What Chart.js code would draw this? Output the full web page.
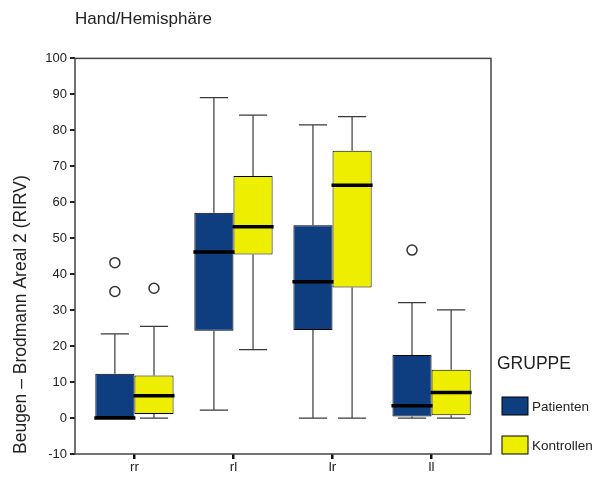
<!DOCTYPE html>
<html>
<head>
<meta charset="utf-8">
<script src="https://cdn.jsdelivr.net/npm/chart.js@4.4.1/dist/chart.umd.min.js"></script>
<style>
  body { margin: 0; background: #fff; }
  #wrap { width: 606px; height: 477px; }
</style>
</head>
<body>
<div id="wrap"><canvas id="boxchart"></canvas></div>
<script>
var categories = ['rr', 'rl', 'lr', 'll'];
var groups = ['Patienten', 'Kontrollen'];

// Patienten
var patMin = [0, 2.2, 0, 0];
var patQ1 = [0, 24.3, 24.5, 0.4];
var patMed = [0, 46.2, 37.9, 3.4];
var patQ3 = [12.3, 57.1, 53.6, 17.5];
var patMax = [23.4, 89.1, 81.5, 32.1];
var patOut = [[35.2, 43.2], [], [], [46.7]];

// Kontrollen
var konMin = [0, 19.0, 0, 0];
var konQ1 = [1.1, 45.5, 36.3, 0.8];
var konMed = [6.2, 53.2, 64.7, 7.1];
var konQ3 = [11.8, 67.3, 74.3, 13.4];
var konMax = [25.5, 84.2, 83.8, 30.1];
var konOut = [[36.1], [], [], []];

var yTicks = [-10, 0, 10, 20, 30, 40, 50, 60, 70, 80, 90, 100];

var FONT = '"Liberation Sans", Arial, sans-serif';

function boxData(q1, q3) {
	var out = [];
	for (var i in categories) {
		out.push({ x: Number(i), y: [q1[i], q3[i]] });
	}
	return out;
}

var stats = [
	{ min: patMin, med: patMed, max: patMax, out: patOut },
	{ min: konMin, med: konMed, max: konMax, out: konOut }
];

// whiskers, medians and outliers on top of the floating bars
var boxExtras = {
	id: 'boxExtras',
	afterDatasetsDraw: function(chart) {
		var ctx = chart.ctx;
		var y = chart.scales.y;
		ctx.save();
		chart.data.datasets.forEach(function(ds, d) {
			var meta = chart.getDatasetMeta(d);
			var s = stats[d];
			meta.data.forEach(function(bar, i) {
				var cx = bar.x;
				var w = bar.width;
				var top = ds.data[i].y[1];
				var bottom = ds.data[i].y[0];
				var cap = w * 0.36;

				ctx.strokeStyle = '#3a3a3a';
				ctx.lineWidth = 1.2;
				ctx.beginPath();
				ctx.moveTo(cx, y.getPixelForValue(top));
				ctx.lineTo(cx, y.getPixelForValue(s.max[i]));
				ctx.moveTo(cx - cap, y.getPixelForValue(s.max[i]));
				ctx.lineTo(cx + cap, y.getPixelForValue(s.max[i]));
				ctx.moveTo(cx, y.getPixelForValue(bottom));
				ctx.lineTo(cx, y.getPixelForValue(s.min[i]));
				ctx.moveTo(cx - cap, y.getPixelForValue(s.min[i]));
				ctx.lineTo(cx + cap, y.getPixelForValue(s.min[i]));
				ctx.stroke();

				ctx.strokeStyle = '#000';
				ctx.lineWidth = 3.5;
				ctx.beginPath();
				ctx.moveTo(cx - w / 2 - 1, y.getPixelForValue(s.med[i]));
				ctx.lineTo(cx + w / 2 + 1, y.getPixelForValue(s.med[i]));
				ctx.stroke();

				ctx.strokeStyle = '#333';
				ctx.lineWidth = 1.5;
				s.out[i].forEach(function(v) {
					ctx.beginPath();
					ctx.arc(cx, y.getPixelForValue(v), 5, 0, Math.PI * 2);
					ctx.stroke();
				});
			});
		});
		ctx.restore();
	}
};

// frame round the plot and the group legend
var frameLegend = {
	id: 'frameLegend',
	afterDraw: function(chart) {
		var ctx = chart.ctx;
		var a = chart.chartArea;
		ctx.save();
		ctx.strokeStyle = '#444';
		ctx.lineWidth = 1.5;
		ctx.strokeRect(a.left, a.top, a.right - a.left, a.bottom - a.top);

		var lx = a.right + 6;
		ctx.fillStyle = '#222';
		ctx.font = '17.5px ' + FONT;
		ctx.textBaseline = 'middle';
		ctx.fillText('GRUPPE', lx, 364);

		chart.data.datasets.forEach(function(ds, d) {
			var ty = 406 + d * 39;
			ctx.fillStyle = ds.backgroundColor;
			ctx.fillRect(lx + 5, ty - 9, 26, 18);
			ctx.strokeStyle = '#000';
			ctx.lineWidth = 1;
			ctx.strokeRect(lx + 5, ty - 9, 26, 18);
			ctx.fillStyle = '#222';
			ctx.font = '13.5px ' + FONT;
			ctx.fillText(ds.label, lx + 35, ty + 1);
		});
		ctx.restore();
	}
};

var ctx = document.getElementById('boxchart');

var boxChart = new Chart(ctx, {
	type: 'bar',
	data: {
		datasets: [
			{
				label: groups[0],
				data: boxData(patQ1, patQ3),
				backgroundColor: '#0e3d80',
				borderColor: '#000',
				borderWidth: 1,
				borderSkipped: false
			},
			{
				label: groups[1],
				data: boxData(konQ1, konQ3),
				backgroundColor: '#eeee00',
				borderColor: '#000',
				borderWidth: 1,
				borderSkipped: false
			}
		]
	},
	options: {
		responsive: true,
		maintainAspectRatio: false,
		animation: false,
		categoryPercentage: 0.79,
		barPercentage: 1,
		layout: { padding: { left: 0, right: 115, top: 0, bottom: 0 } },
		plugins: {
			legend: { display: false },
			tooltip: { enabled: false },
			title: {
				display: true,
				text: 'Hand/Hemisphäre',
				align: 'start',
				fullSize: false,
				color: '#222',
				font: { family: FONT, size: 17, weight: 'normal' },
				padding: { top: 9, bottom: 29 }
			}
		},
		scales: {
			x: {
				type: 'linear',
				min: -0.6,
				max: 3.6,
				offset: false,
				border: { display: false },
				grid: { offset: false, drawOnChartArea: false, color: '#111', lineWidth: 2.5, tickLength: 5 },
				afterBuildTicks: function(scale) {
					scale.ticks = categories.map(function(c, i) { return { value: i }; });
				},
				afterFit: function(scale) { scale.height = 23; },
				ticks: {
					color: '#222',
					padding: 0,
					font: { family: FONT, size: 13.5 },
					callback: function(v) { return categories[v]; }
				}
			},
			y: {
				min: -10,
				max: 100,
				border: { display: false },
				grid: { drawOnChartArea: false, color: '#222', lineWidth: 2, tickLength: 5 },
				afterBuildTicks: function(scale) {
					scale.ticks = yTicks.map(function(v) { return { value: v }; });
				},
				afterFit: function(scale) { scale.width = 75; },
				ticks: {
					color: '#222',
					padding: 3,
					font: { family: FONT, size: 13 }
				},
				title: {
					display: true,
					text: 'Beugen – Brodmann Areal 2 (RIRV)',
					align: 'start',
					color: '#222',
					font: { family: FONT, size: 17.5 },
					padding: { top: 11, bottom: 0 }
				}
			}
		}
	},
	plugins: [boxExtras, frameLegend]
});
</script>
</body>
</html>
